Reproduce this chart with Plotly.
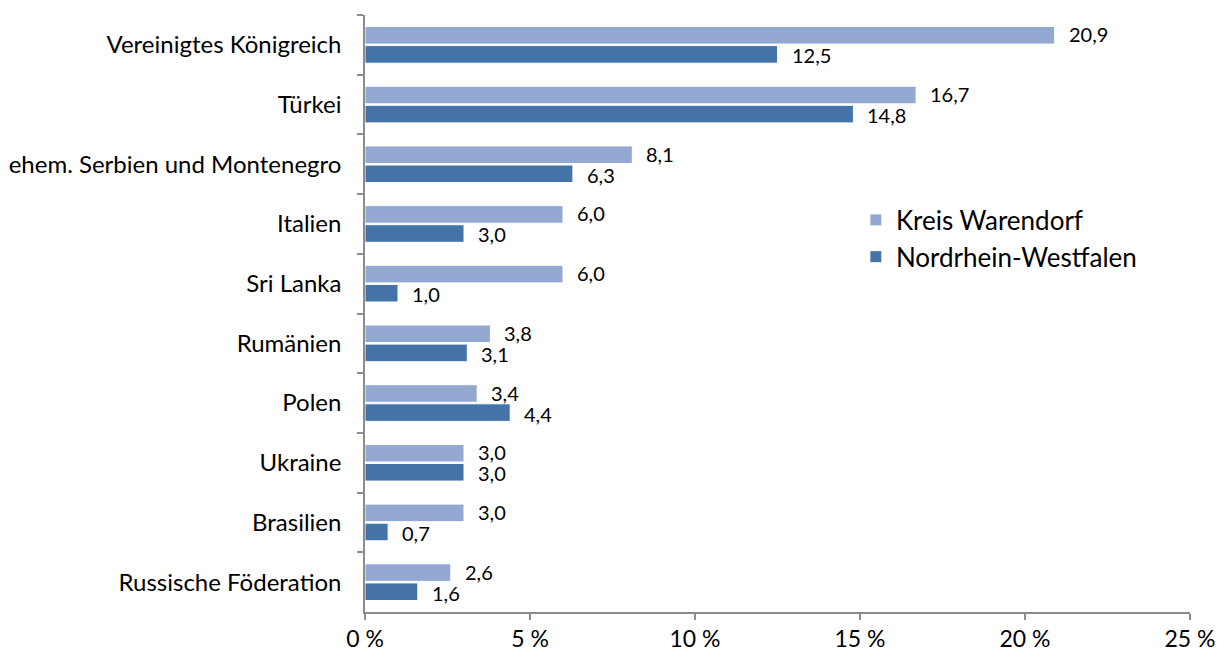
import plotly.graph_objects as go

categories = ["Vereinigtes Königreich", "Türkei", "ehem. Serbien und Montenegro", "Italien",
              "Sri Lanka", "Rumänien", "Polen", "Ukraine", "Brasilien", "Russische Föderation"]
kreis_warendorf = [20.9, 16.7, 8.1, 6.0, 6.0, 3.8, 3.4, 3.0, 3.0, 2.6]
nrw = [12.5, 14.8, 6.3, 3.0, 1.0, 3.1, 4.4, 3.0, 0.7, 1.6]
x_ticks = [0, 5, 10, 15, 20, 25]
x_ticklabels = ["0 %", "5 %", "10 %", "15 %", "20 %", "25 %"]

FONT = "Lato"
c_light = "#94A9D1"
c_dark = "#4473A8"
axis_col = "#8C8C8C"

def fmt(v):
    return f"{v:.1f}".replace(".", ",")

fig = go.Figure()
fig.add_trace(go.Bar(name="Kreis Warendorf", y=categories, x=kreis_warendorf, orientation="h",
                     marker=dict(color=c_light, line=dict(color="white", width=1))))
fig.add_trace(go.Bar(name="Nordrhein-Westfalen", y=categories, x=nrw, orientation="h",
                     marker=dict(color=c_dark, line=dict(color="white", width=1))))

annotations = []
for cat, a, b in zip(categories, kreis_warendorf, nrw):
    annotations.append(dict(x=a, y=cat, text=fmt(a), showarrow=False, xanchor="left",
                            xshift=13, yshift=10.5, borderpad=0,
                            font=dict(family=FONT, size=20, color="#000")))
    annotations.append(dict(x=b, y=cat, text=fmt(b), showarrow=False, xanchor="left",
                            xshift=13, yshift=-10.5, borderpad=0,
                            font=dict(family=FONT, size=20, color="#000")))

# page body has an 8px margin, so the figure is offset by 8px
fig.update_layout(
    width=1218, height=649,
    margin=dict(l=357, r=36, t=7, b=45, autoexpand=False),
    paper_bgcolor="white", plot_bgcolor="white",
    barmode="group", bargap=0.36, bargroupgap=0.08,
    font=dict(family=FONT, size=24, color="#000"),
    showlegend=True,
    legend=dict(x=0.595, y=0.696, xanchor="left", yanchor="top", font=dict(family=FONT, size=26),
                bgcolor="rgba(0,0,0,0)", tracegroupgap=0, itemwidth=30),
    annotations=annotations,
    xaxis=dict(range=[0, 25], tickvals=x_ticks, ticktext=x_ticklabels, showgrid=False,
               zeroline=False, showline=True, linecolor=axis_col, linewidth=1.5,
               ticks="outside", ticklen=6, tickcolor=axis_col, tickwidth=1.5, automargin=False,
               ticklabelstandoff=0, tickfont=dict(family=FONT, size=23)),
    yaxis=dict(categoryorder="array", categoryarray=categories, autorange="reversed",
               showgrid=False, showline=True, linecolor=axis_col, linewidth=1.5,
               ticks="outside", ticklen=6, tickcolor=axis_col, tickwidth=1.5, automargin=False,
               tickson="boundaries", ticklabelstandoff=17,
               tickfont=dict(family=FONT, size=24)),
)

fig.write_html("out.html")
